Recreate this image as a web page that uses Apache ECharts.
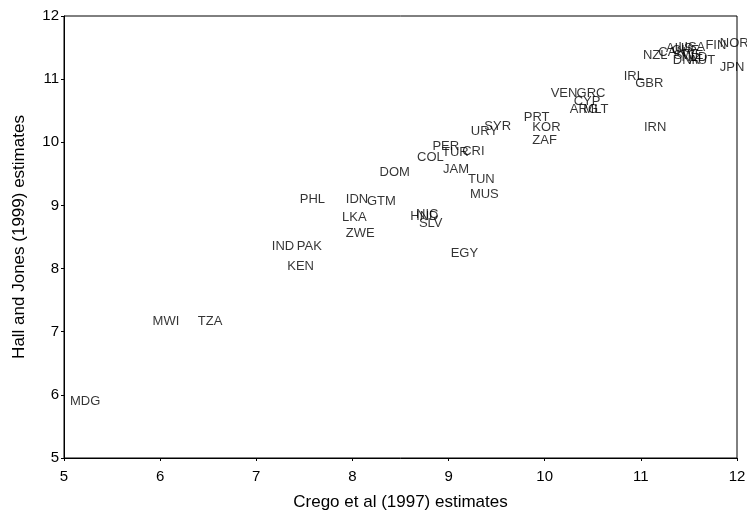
<!DOCTYPE html>
<html><head><meta charset="utf-8">
<script src="https://cdn.jsdelivr.net/npm/echarts@6/dist/echarts.min.js"></script>
<style>html,body{margin:0;padding:0;background:#fff}#c{width:747px;height:516px}</style>
</head><body><div id="c"></div>
<script>
const codes = ["MDG","MWI","TZA","IND","PAK","KEN","PHL","IDN","GTM","LKA","ZWE","DOM","COL","PER","TUR","CRI","JAM","TUN","MUS","EGY","HND","NIC","SLV","URY","SYR","PRT","KOR","ZAF","VEN","GRC","CYP","ARG","MLT","IRL","GBR","IRN","NZL","CAN","AUS","CHE","USA","SWE","DNK","NLD","AUT","FIN","NOR","JPN"];
const crego = [5.02,5.88,6.35,7.12,7.38,7.28,7.41,7.89,8.11,7.85,7.89,8.24,8.63,8.79,8.89,9.10,8.90,9.16,9.18,8.98,8.56,8.62,8.65,9.19,9.33,9.74,9.83,9.83,10.02,10.29,10.26,10.22,10.36,10.78,10.90,10.99,10.98,11.14,11.22,11.28,11.35,11.30,11.29,11.38,11.46,11.63,11.78,11.78];
const hallJones = [5.89,7.17,7.17,8.35,8.35,8.03,9.09,9.09,9.06,8.81,8.56,9.52,9.76,9.93,9.84,9.85,9.57,9.41,9.17,8.24,8.83,8.86,8.71,10.17,10.25,10.40,10.23,10.03,10.78,10.78,10.64,10.52,10.52,11.04,10.94,10.23,11.38,11.43,11.49,11.46,11.51,11.37,11.29,11.34,11.30,11.53,11.57,11.18];
const xTicks = [5,6,7,8,9,10,11,12];
const yTicks = [5,6,7,8,9,10,11,12];

const FONT = "'Liberation Sans', Arial, sans-serif";
const pts = codes.map((c,i)=>({name:c, value:[crego[i], hallJones[i]]}));
const chart = echarts.init(document.getElementById('c'));
chart.setOption({
  animation:false,
  backgroundColor:'#fff',
  grid:{left:64,right:10,top:16,bottom:58,outerBoundsMode:'none',containLabel:false,show:true,borderColor:'#000',borderWidth:1,backgroundColor:'transparent'},
  xAxis:{type:'value',min:xTicks[0],max:xTicks[xTicks.length-1],interval:1,
    name:'Crego et al (1997) estimates',nameLocation:'middle',nameGap:36,
    nameTextStyle:{fontFamily:FONT,fontSize:17,color:'#000'},
    axisLine:{show:true,lineStyle:{color:'#000'}},
    axisTick:{show:true,length:3,lineStyle:{color:'#000'}},
    axisLabel:{fontFamily:FONT,fontSize:15,color:'#000',margin:11},
    splitLine:{show:false}},
  yAxis:{type:'value',min:yTicks[0],max:yTicks[yTicks.length-1],interval:1,
    name:'Hall and Jones (1999) estimates',nameLocation:'middle',nameGap:36,
    nameTextStyle:{fontFamily:FONT,fontSize:17,color:'#000'},
    axisLine:{show:true,lineStyle:{color:'#000'}},
    axisTick:{show:true,length:3,lineStyle:{color:'#000'}},
    axisLabel:{fontFamily:FONT,fontSize:15,color:'#000',margin:5},
    splitLine:{show:false}},
  series:[{type:'scatter',data:pts,symbolSize:2,itemStyle:{color:'rgba(0,0,0,0)'},
    label:{show:true,position:'right',distance:3,formatter:p=>p.name,
      fontFamily:FONT,fontSize:13,color:'#000'},
    labelLayout:{hideOverlap:false}}]
});
</script></body></html>
